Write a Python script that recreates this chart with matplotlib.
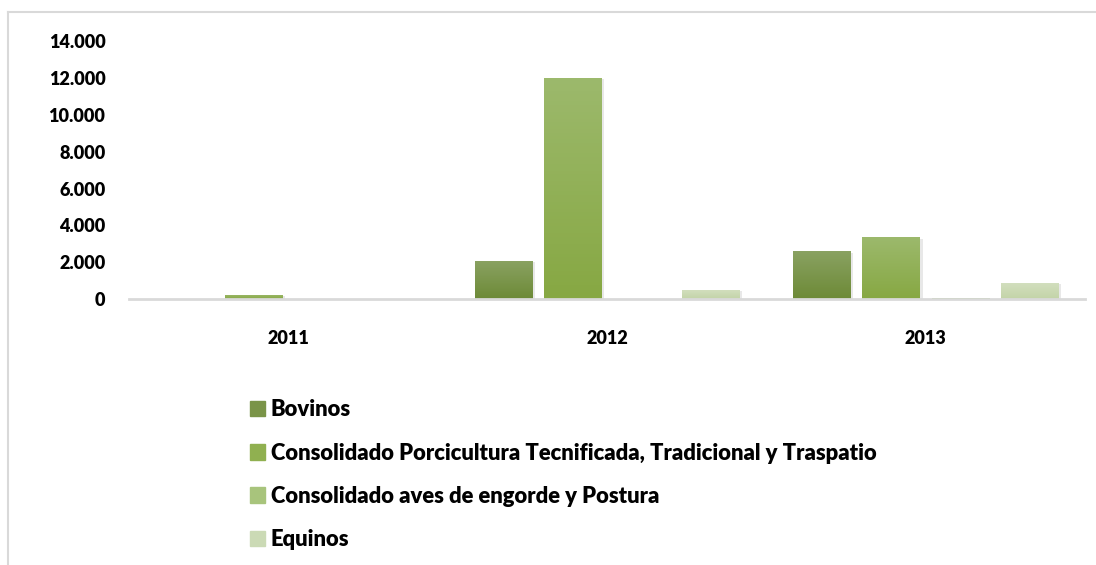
import numpy as np
import matplotlib.pyplot as plt
from matplotlib.colors import LinearSegmentedColormap
from matplotlib.lines import Line2D
import matplotlib.patheffects as pe

years = ['2011', '2012', '2013']
series = ['Bovinos',
          'Consolidado Porcicultura Tecnificada, Tradicional y Traspatio',
          'Consolidado aves de engorde y Postura',
          'Equinos']
bovinos = [20, 2070, 2610]
porcicultura = [230, 12000, 3360]
aves = [0, 0, 80]
equinos = [0, 500, 880]
yticks = [0, 2000, 4000, 6000, 8000, 10000, 12000, 14000]

# top / bottom colours of each bar gradient, plus the legend swatch colour
grads = [('#8aa262', '#6d8a37'),
         ('#9cb96c', '#87a843'),
         ('#adc785', '#9dbd62'),
         ('#d3dfbf', '#c3d4a8')]
swatch = ['#7a9448', '#90b050', '#a8c47c', '#cbdab5']

plt.rcParams['font.family'] = ['Lato', 'DejaVu Sans']
plt.rcParams['font.weight'] = 'heavy'

fig = plt.figure(figsize=(10.96, 5.65), dpi=100)
ax = fig.add_axes([0.1177, 0.4703, 0.8723, 0.4571])

x = np.arange(len(years))
w = 0.18
step = 0.217
values = [bovinos, porcicultura, aves, equinos]

ax.set_xlim(-0.5, 2.5)
ax.set_ylim(0, 14000)

for i, (vals, (ctop, cbot)) in enumerate(zip(values, grads)):
    bars = ax.bar(x + (i - 1.5) * step, vals, w, color=cbot, label=series[i],
                  zorder=2, linewidth=0,
                  path_effects=[pe.SimplePatchShadow(offset=(2, -1), alpha=0.15, shadow_rgbFace='#666666'),
                                pe.Normal()])
    cmap = LinearSegmentedColormap.from_list('g%d' % i, [cbot, ctop])
    grad = np.linspace(0, 1, 64).reshape(-1, 1)
    for b in bars:
        h = b.get_height()
        if h <= 0:
            continue
        im = ax.imshow(grad, cmap=cmap, origin='lower', aspect='auto',
                       extent=(b.get_x(), b.get_x() + b.get_width(), 0, h), zorder=3)
        im.set_clip_path(b)

ax.set_xlim(-0.5, 2.5)
ax.set_ylim(0, 14000)

for s in ['top', 'right', 'left']:
    ax.spines[s].set_visible(False)
ax.spines['bottom'].set_color('#d9d9d9')
ax.spines['bottom'].set_linewidth(2)
ax.spines['bottom'].set_zorder(4)

ax.set_xticks(x)
ax.set_xticklabels(years)
ax.set_yticks(yticks)
ax.set_yticklabels(['{:,}'.format(v).replace(',', '.') for v in yticks])
ax.tick_params(axis='both', length=0, labelsize=13)
ax.tick_params(axis='y', pad=17)
ax.tick_params(axis='x', pad=22)

handles = [plt.Rectangle((0, 0), 1, 1, color=c) for c in swatch]
fig.legend(handles, series, loc='upper left', bbox_to_anchor=(0.228, 0.293),
           frameon=False, fontsize=15.8, handlelength=0.7, handleheight=0.7,
           handletextpad=0.25, labelspacing=1.01, borderpad=0, borderaxespad=0)

# chart frame
fig.add_artist(Line2D([8 / 1096, 1], [1 - 12 / 565, 1 - 12 / 565], color='#d9d9d9', lw=1.5))
fig.add_artist(Line2D([8 / 1096, 8 / 1096], [0, 1 - 12 / 565], color='#d9d9d9', lw=1.5))

fig.savefig('out.png', dpi=100)
